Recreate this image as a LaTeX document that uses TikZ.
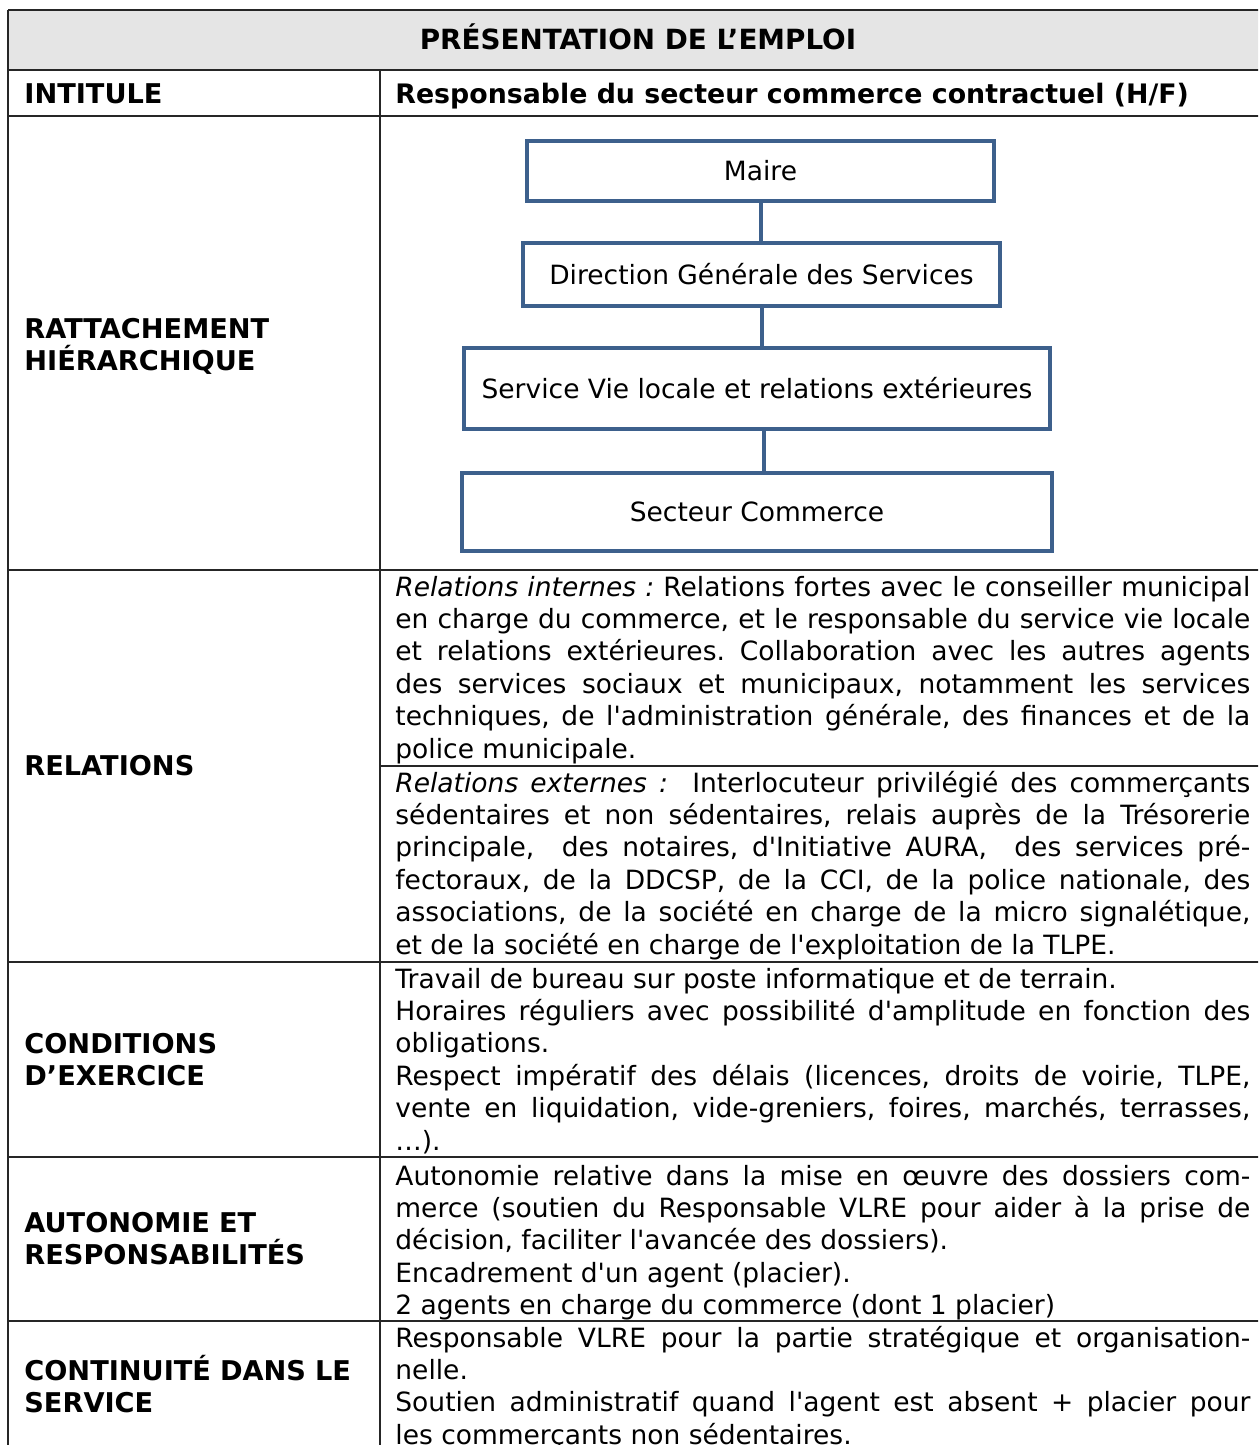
\documentclass[tikz,border=0pt]{standalone}
\usepackage{fontspec}
\setmainfont{DejaVu Sans}[Ligatures=TeXOff]
\usepackage{xcolor}
\usetikzlibrary{positioning}
\definecolor{Boxcol}{RGB}{61,96,140}
\colorlet{Rulecol}{black!85}
\colorlet{Headcol}{black!10}
\tolerance=10000
\hbadness=10000
\frenchspacing
\newcommand\bodyfont{\fontsize{13.25}{16.2}\selectfont}
\newcommand\headfont{\fontsize{13.6}{16}\selectfont\bfseries}
\tikzstyle{rule}=[Rulecol,line width=1pt]
\tikzstyle{org box}=[draw=Boxcol,line width=2pt,inner sep=0pt,font=\bodyfont]
\tikzstyle{org line}=[Boxcol,line width=2pt]
\tikzstyle{row head}=[anchor=base west,inner sep=0,text width=180pt,align=left,font=\headfont]
\tikzstyle{row text}=[anchor=base west,inner sep=0,text width=427.5pt,align=justify,
  font=\bodyfont]

\begin{document}
\begin{tikzpicture}[x=0.5pt,y=-0.5pt]
  \clip (0,0) rectangle (1258,1445);

  % TABLE
  \fill[Headcol] (8,10) rectangle (1270,70);
  \foreach \y in {10,70,116,570,962,1157,1321}
    \draw[rule] (8,\y) -- (1270,\y);
  \draw[rule] (380,766) -- (1270,766);
  \draw[rule] (8,10) -- (8,1460);
  \draw[rule] (380,70) -- (380,1460);

  % HEADINGS
  \node[font=\headfont\fontsize{13.9}{16}\selectfont,anchor=base,inner sep=0] (titre)
    at (638,49.5) {PRÉSENTATION DE L’EMPLOI};
  \node[row head] (intitule) at (24,103.5) {INTITULE};
  \node[font=\headfont\fontsize{13.4}{16}\selectfont,anchor=base west,inner sep=0] (poste)
    at (395,103.5) {Responsable du secteur commerce contractuel (H/F)};
  \node[row head] (rattach) at (24,338.5) {RATTACHEMENT\\HIÉRARCHIQUE};
  \node[row head] (relations) at (24,775.5) {RELATIONS};
  \node[row head] (conditions) at (24,1053.5) {CONDITIONS\\D’EXERCICE};
  \node[row head] (autonomie) at (24,1232.5) {AUTONOMIE ET\\RESPONSABILITÉS};
  \node[row head] (continuite) at (24,1380.5) {CONTINUITÉ DANS LE\\SERVICE};

  % ORG CHART
  \node[org box,minimum width=233.5pt,minimum height=30pt] (maire)
    at (760.5,171) {Maire};
  \node[org box,minimum width=238.5pt,minimum height=31.5pt] (dgs)
    at (761.5,274.5) {Direction Générale des Services};
  \node[org box,minimum width=293pt,minimum height=40.5pt] (vlre)
    at (757,388.5) {Service Vie locale et relations extérieures};
  \node[org box,minimum width=295pt,minimum height=39pt] (commerce)
    at (757,512) {Secteur Commerce};
  \draw[org line] (maire) -- (maire |- dgs.north);
  \draw[org line] (dgs) -- (dgs |- vlre.north);
  \draw[org line] ([xshift=3.5pt]vlre.south) -- ([xshift=3.5pt]vlre.south |- commerce.north);

  % CELL TEXTS
  \node[row text] (internes) at (395,596)
    {\textit{Relations internes :} Relations fortes avec le conseiller municipal\linebreak
     en charge du commerce, et le responsable du service vie locale\linebreak
     et relations extérieures. Collaboration avec les autres agents\linebreak
     des services sociaux et municipaux, notamment les services\linebreak
     techniques, de l'administration générale, des finances et de la\linebreak
     police municipale.};
  \node[row text] (externes) at (395,792)
    {\textit{Relations externes :}\ \ Interlocuteur privilégié des commerçants\linebreak
     sédentaires et non sédentaires, relais auprès de la Trésorerie\linebreak
     principale,\ \ des notaires, d'Initiative AURA,\ \ des services pré-\linebreak
     fectoraux, de la DDCSP, de la CCI, de la police nationale, des\linebreak
     associations, de la société en charge de la micro signalétique,\linebreak
     et de la société en charge de l'exploitation de la TLPE.};
  \node[row text] (exercice) at (395,988)
    {Travail de bureau sur poste informatique et de terrain.\par
     Horaires réguliers avec possibilité d'amplitude en fonction des\linebreak
     obligations.\par
     Respect impératif des délais (licences, droits de voirie, TLPE,\linebreak
     vente en liquidation, vide-greniers, foires, marchés, terrasses,\linebreak
     …).};
  \node[row text] (responsab) at (395,1185)
    {Autonomie relative dans la mise en œuvre des dossiers com-\linebreak
     merce (soutien du Responsable VLRE pour aider à la prise de\linebreak
     décision, faciliter l'avancée des dossiers).\par
     Encadrement d'un agent (placier).\par
     2 agents en charge du commerce (dont 1 placier)};
  \node[row text] (service) at (395,1347)
    {Responsable VLRE pour la partie stratégique et organisation-\linebreak
     nelle.\par
     Soutien administratif quand l'agent est absent + placier pour\linebreak
     les commerçants non sédentaires.};
\end{tikzpicture}
\end{document}
